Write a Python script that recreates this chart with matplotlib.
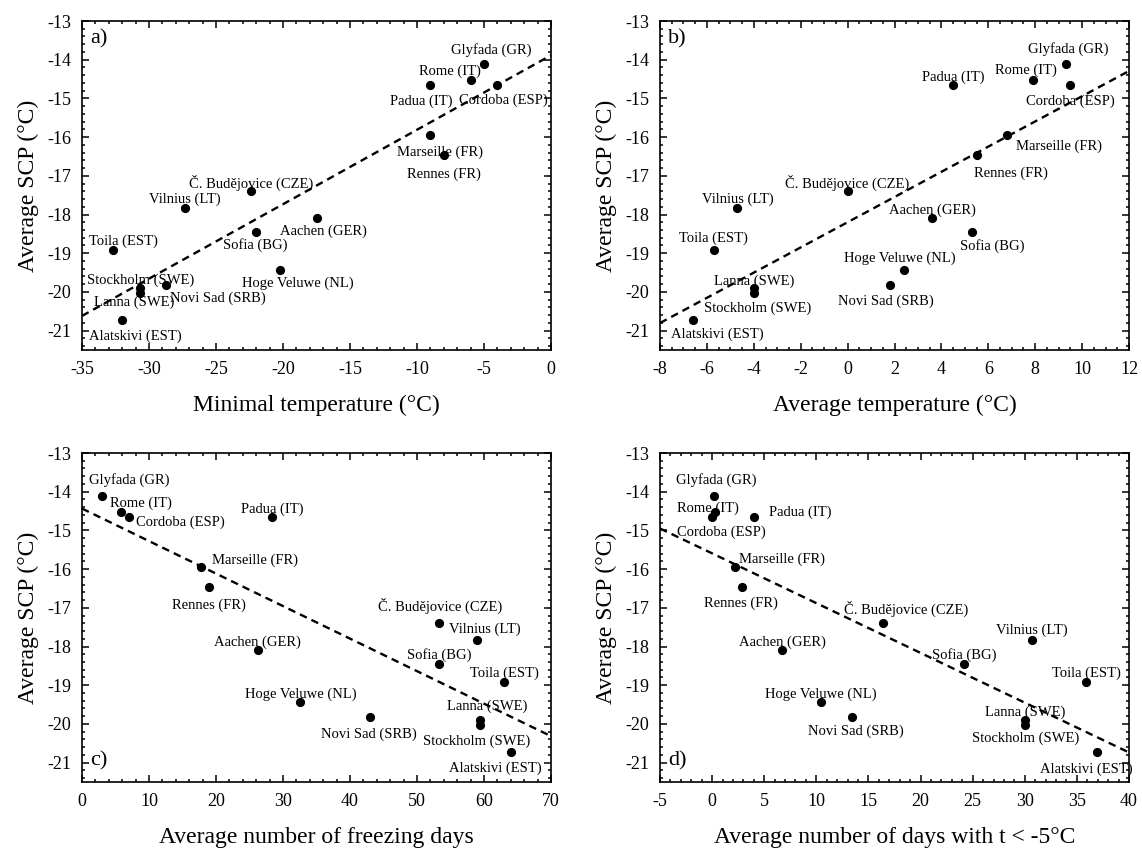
import numpy as np
import matplotlib
matplotlib.use("Agg")
import matplotlib.pyplot as plt
from matplotlib.ticker import MultipleLocator

plt.rcParams['font.family'] = ['Liberation Serif', 'DejaVu Serif']
plt.rcParams['axes.unicode_minus'] = False

# cities and their average SCP (°C)
cities = ["Glyfada (GR)", "Rome (IT)", "Cordoba (ESP)", "Padua (IT)", "Marseille (FR)",
          "Rennes (FR)", "Č. Budějovice (CZE)", "Vilnius (LT)", "Aachen (GER)", "Sofia (BG)",
          "Toila (EST)", "Hoge Veluwe (NL)", "Novi Sad (SRB)", "Lanna (SWE)",
          "Stockholm (SWE)", "Alatskivi (EST)"]
scp = [-14.1, -14.52, -14.65, -14.65, -15.94, -16.46, -17.4, -17.82, -18.09, -18.45,
       -18.91, -19.43, -19.82, -19.9, -20.03, -20.72]

# climate variables
min_temp = [-5.0, -6.0, -4.0, -9.0, -9.0, -8.0, -22.4, -27.3, -17.5, -22.0,
            -32.7, -20.2, -28.7, -30.7, -30.7, -32.0]
avg_temp = [9.3, 7.9, 9.5, 4.5, 6.8, 5.5, 0.0, -4.7, 3.6, 5.3,
            -5.7, 2.4, 1.8, -4.0, -4.0, -6.6]
freeze_days = [3.0, 5.8, 7.0, 28.4, 17.8, 19.0, 53.3, 59.0, 26.2, 53.3,
               63.0, 32.6, 43.0, 59.4, 59.4, 64.1]
cold_days = [0.2, 0.3, 0.0, 4.0, 2.2, 2.9, 16.4, 30.7, 6.7, 24.2,
             35.9, 10.4, 13.4, 30.0, 30.0, 36.9]

# label offsets (pixels, right/down) for each city in each panel
offs_a = [(7, -14), (-21, -9), (6, 15), (-9, 16), (10, 17), (0, 19), (0, -8), (0, -8),
          (7, 13), (-1, 13), (11, -8), (17, 13), (51, 13), (-5, 14), (1, -13), (13, 16)]
offs_b = [(3, -15), (-7, -10), (0, 16), (0, -8), (52, 11), (34, 18), (0, -8), (0, -8),
          (0, -8), (20, 14), (0, -11), (-4, -12), (-4, 16), (0, -7), (4, 15), (24, 14)]
offs_c = [(27, -16), (20, -9), (51, 5), (0, -8), (54, -7), (0, 18), (1, -17), (8, -10),
          (0, -8), (0, -9), (0, -8), (0, -8), (-1, 17), (7, -14), (-3, 16), (-16, 16)]
offs_d = [(2, -16), (-7, -4), (9, 15), (46, -5), (47, -8), (-1, 16), (23, -14), (0, -9),
          (0, -8), (0, -9), (0, -8), (0, -8), (4, 14), (0, -8), (1, 13), (-10, 17)]

panels = [
    ("a)", min_temp, offs_a, (-35, 0), 5, 1, "Minimal temperature (°C)", "top"),
    ("b)", avg_temp, offs_b, (-8, 12), 2, 0.5, "Average temperature (°C)", "top"),
    ("c)", freeze_days, offs_c, (0, 70), 10, 2, "Average number of freezing days", "bottom"),
    ("d)", cold_days, offs_d, (-5, 40), 5, 1, "Average number of days with t < -5°C", "bottom"),
]

W, H = 1142, 848
fig = plt.figure(figsize=(W / 100, H / 100), dpi=100)
rects = [(82, 21), (660, 21), (82, 453), (660, 453)]
aw, ah = 469, 329

for (letter, xs, offs, xlim, maj, mnr, xlabel, lpos), (l, t) in zip(panels, rects):
    ax = fig.add_axes([l / W, 1 - (t + ah) / H, aw / W, ah / H])
    xs = np.array(xs)
    ys = np.array(scp)

    # linear fit across full x range
    k, b = np.polyfit(xs, ys, 1)
    xx = np.array(xlim, dtype=float)
    ax.plot(xx, k * xx + b, color='black', linestyle=(0, (3.2, 2.2)), linewidth=1.7, zorder=3)

    ax.plot(xs, ys, 'o', color='black', markersize=5.6, zorder=4)
    for name, x, y, (dx, dy) in zip(cities, xs, ys, offs):
        ax.annotate(name, (x, y), xytext=(dx, -dy), textcoords='offset pixels',
                    ha='center', va='center', fontsize=10.5, zorder=2)

    ax.set_xlim(*xlim)
    ax.set_ylim(-21.5, -13)
    ax.xaxis.set_major_locator(MultipleLocator(maj))
    ax.xaxis.set_minor_locator(MultipleLocator(mnr))
    ax.yaxis.set_major_locator(MultipleLocator(1))
    ax.yaxis.set_minor_locator(MultipleLocator(0.2))
    ax.tick_params(which='both', direction='in', top=True, right=True, width=1.1)
    ax.tick_params(which='major', length=5, labelsize=13, pad=8)
    ax.tick_params(which='minor', length=2.5)
    for sp in ax.spines.values():
        sp.set_linewidth(1.2)

    ax.set_xlabel(xlabel, fontsize=17, labelpad=12)
    ax.set_ylabel("Average SCP (°C)", fontsize=17, labelpad=6)

    if lpos == "top":
        ax.text(0.018, 0.975, letter, transform=ax.transAxes, fontsize=16, ha='left', va='top')
    else:
        ax.text(0.018, 0.035, letter, transform=ax.transAxes, fontsize=16, ha='left', va='bottom')

fig.savefig("out.png", dpi=100)
